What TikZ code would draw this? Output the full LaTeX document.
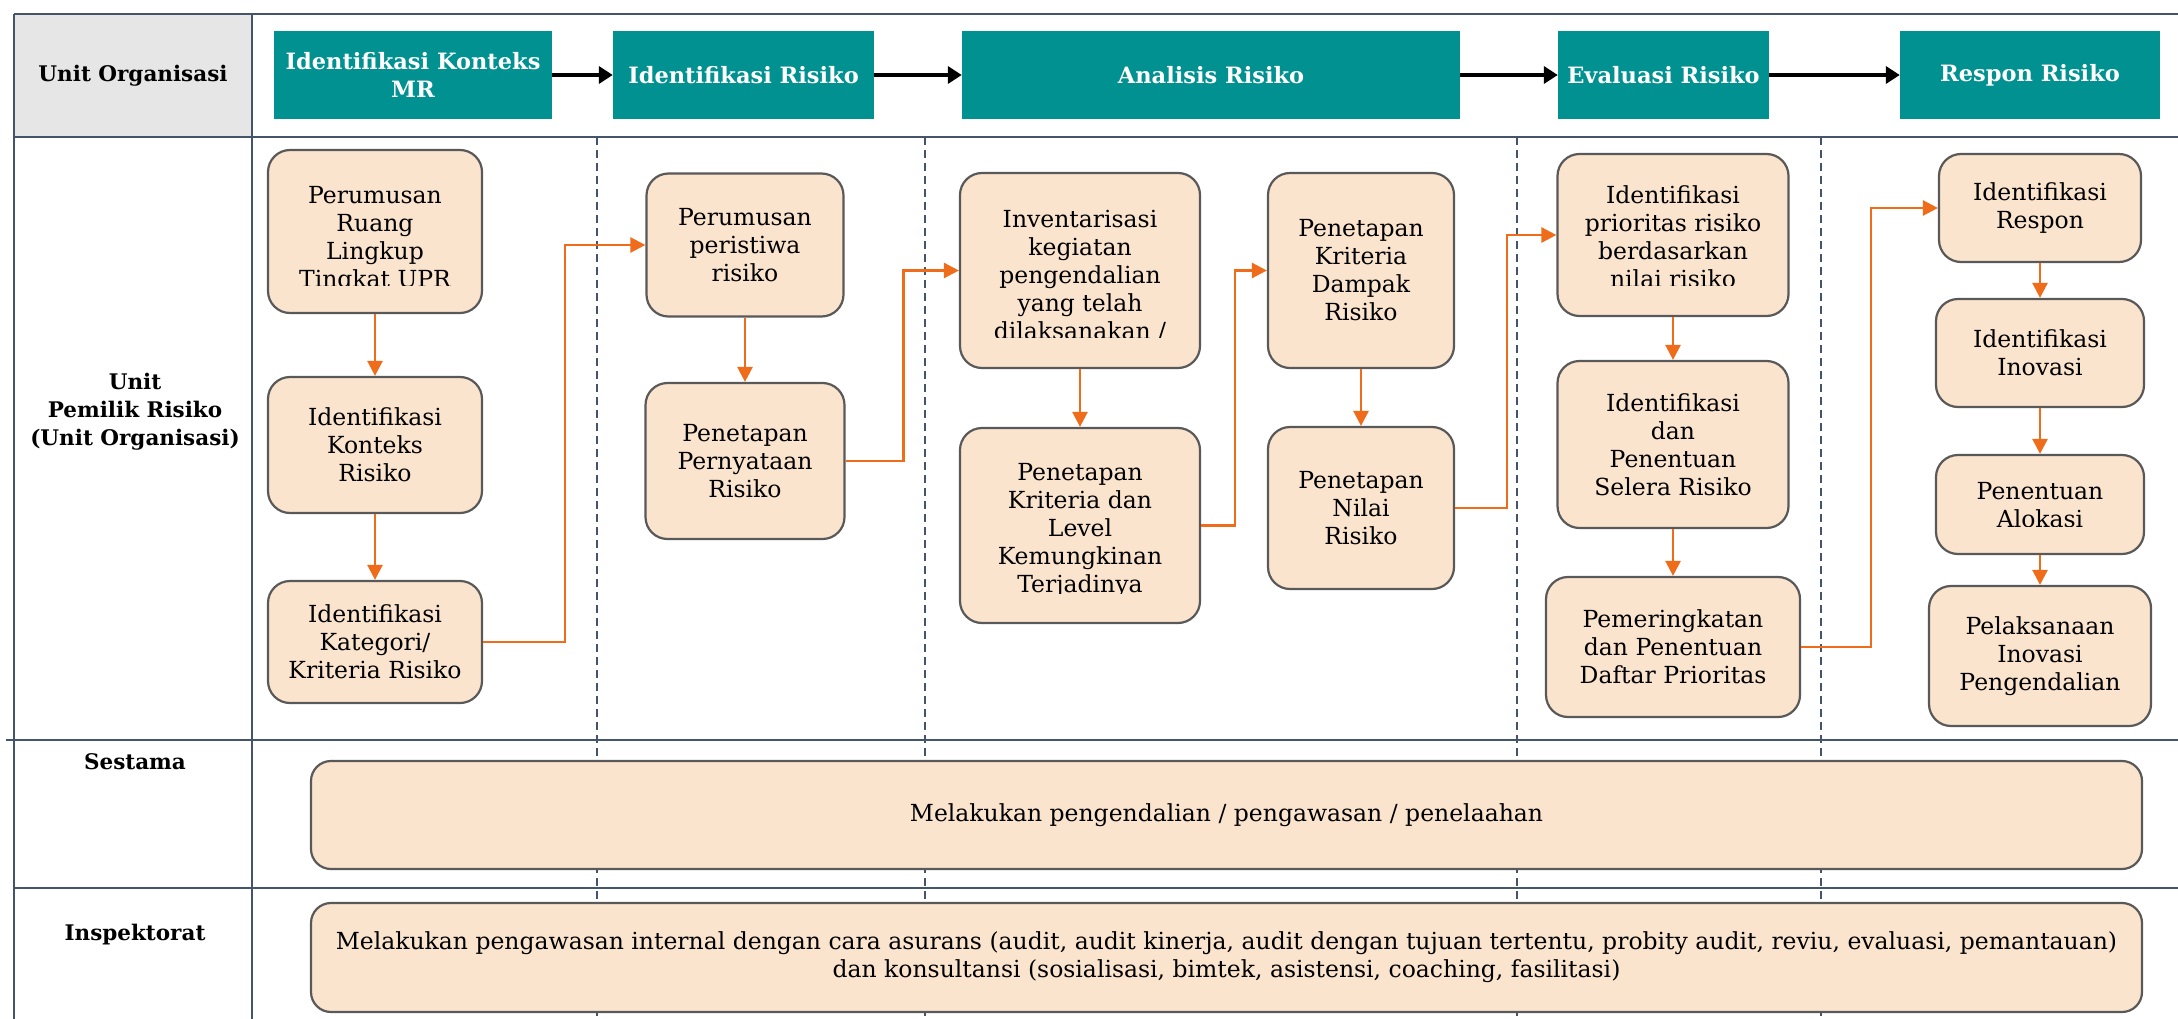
\documentclass[tikz,border=0pt]{standalone}
\usepackage{fontspec}
\setmainfont{DejaVu Serif}
\usetikzlibrary{arrows.meta}

\definecolor{lanecol}{HTML}{44546A}
\definecolor{phasecol}{HTML}{009190}
\definecolor{peach}{HTML}{FBE4CD}
\definecolor{boxline}{HTML}{595959}
\definecolor{flowor}{HTML}{EE6C1A}
\definecolor{headgray}{HTML}{E7E6E6}

\newcommand\txtbody{\fontsize{23.5}{28}\selectfont}
\newcommand\txthead{\bfseries\fontsize{21.5}{28}\selectfont}
\newcommand\txtphase{\bfseries\fontsize{22.5}{28}\selectfont}

\tikzset{
  laneline/.style={draw=lanecol, line width=2pt},
  colsep/.style={draw=lanecol, line width=1.6pt, dash pattern=on 8pt off 5pt},
  phase/.style={fill=phasecol, text=white, font=\txtphase, align=center,
    inner sep=0pt, minimum height=88pt},
  task/.style={draw=boxline, fill=peach, line width=2.2pt, rounded corners=22pt,
    align=center, font=\txtbody, inner sep=0pt},
  tasktext/.style={align=center, font=\txtbody, inner sep=0pt},
  lanelabel/.style={align=center, font=\txthead, inner sep=0pt},
  flow/.style={draw=flowor, line width=2.5pt, -{Triangle[length=15pt,width=15pt]}},
  stage/.style={draw=black, line width=4pt, -{Triangle[length=14pt,width=17pt]}},
}

\begin{document}
\begin{tikzpicture}[x=1pt,y=-1pt]
\useasboundingbox (0,0) rectangle (2178,1019);
\fill[white] (0,0) rectangle (2178,1019);

% header cell of the label column
\fill[headgray] (14,14) rectangle (252,137);

% dashed separators between the phases
\foreach \sx in {597,925,1517,1821}
  \draw[colsep] (\sx,137) -- (\sx,1019);

% swimlane grid
\draw[laneline] (14,14) -- (2178,14);
\draw[laneline] (14,137) -- (2178,137);
\draw[laneline] (6,740) -- (2178,740);
\draw[laneline] (14,888) -- (2178,888);
\draw[laneline] (14,14) -- (14,1019);
\draw[laneline] (252,14) -- (252,1019);

% lane labels
\node[lanelabel] (lbl-unit) at (133,76) {Unit Organisasi};
\node[lanelabel] (lbl-upr) at (135,412) {Unit\\Pemilik Risiko\\(Unit Organisasi)};
\node[lanelabel] (lbl-ses) at (135,762) {Sestama};
\node[lanelabel] (lbl-insp) at (135,935) {Inspektorat};

% process phases
\node[phase, minimum width=278pt] (p1) at (413,75) {Identifikasi Konteks\\MR};
\node[phase, minimum width=261pt] (p2) at (743.5,75) {Identifikasi Risiko};
\node[phase, minimum width=498pt] (p3) at (1211,75) {Analisis Risiko};
\node[phase, minimum width=211pt] (p4) at (1663.5,75) {Evaluasi Risiko};
\node[phase, minimum width=260pt] (p5) at (2030,75) {Respon Risiko};

\draw[stage] (p1) -- (p2);
\draw[stage] (p2) -- (p3);
\draw[stage] (p3) -- (p4);
\draw[stage] (p4) -- (p5);

% context identification
\node[task, minimum width=214pt, minimum height=163pt] (a1) at (375,231.5) {};
\begin{scope}
  \clip (268,150) rectangle (482,285.5);
  \node[tasktext] (a1-txt) at (375,239.2) {Perumusan\\Ruang\\Lingkup\\Tingkat UPR};
\end{scope}
\node[task, minimum width=214pt, minimum height=136pt] (a2) at (375,445) {Identifikasi\\Konteks\\Risiko};
\node[task, minimum width=214pt, minimum height=122pt] (a3) at (375,642) {Identifikasi\\Kategori/\\Kriteria Risiko};

% risk identification
\node[task, minimum width=197pt, minimum height=143pt] (b1) at (745,245) {Perumusan\\peristiwa\\risiko};
\node[task, minimum width=199pt, minimum height=156pt] (b2) at (745,461) {Penetapan\\Pernyataan\\Risiko};

% risk analysis
\node[task, minimum width=240pt, minimum height=195pt] (c1) at (1080,270.5) {};
\begin{scope}
  \clip (960,174) rectangle (1200,337.5);
  \node[tasktext] (c1-txt) at (1080,276) {Inventarisasi\\kegiatan\\pengendalian\\yang telah\\dilaksanakan /};
\end{scope}
\node[task, minimum width=240pt, minimum height=195pt] (c2) at (1080,525.5) {};
\begin{scope}
  \clip (960,429) rectangle (1200,593);
  \node[tasktext] (c2-txt) at (1080,530.2) {Penetapan\\Kriteria dan\\Level\\Kemungkinan\\Terjadinya};
\end{scope}
\node[task, minimum width=186pt, minimum height=195pt] (d1) at (1361,270.5) {Penetapan\\Kriteria\\Dampak\\Risiko};
\node[task, minimum width=186pt, minimum height=162pt] (d2) at (1361,508) {Penetapan\\Nilai\\Risiko};

% risk evaluation
\node[task, minimum width=231pt, minimum height=162pt] (e1) at (1673,235) {};
\begin{scope}
  \clip (1557,154) rectangle (1789,285.5);
  \node[tasktext] (e1-txt) at (1673,237) {Identifikasi\\prioritas risiko\\berdasarkan\\nilai risiko};
\end{scope}
\node[task, minimum width=231pt, minimum height=167pt] (e2) at (1673,444.5) {Identifikasi\\dan\\Penentuan\\Selera Risiko};
\node[task, minimum width=254pt, minimum height=140pt] (e3) at (1673,647) {Pemeringkatan\\dan Penentuan\\Daftar Prioritas};

% risk response
\node[task, minimum width=202pt, minimum height=108pt] (f1) at (2040,208) {Identifikasi\\Respon};
\node[task, minimum width=208pt, minimum height=108pt] (f2) at (2040,353) {Identifikasi\\Inovasi};
\node[task, minimum width=208pt, minimum height=99pt] (f3) at (2040,504.5) {};
\begin{scope}
  \clip (1936,455) rectangle (2144,526.5);
  \node[tasktext] (f3-txt) at (2040,505.5) {Penentuan\\Alokasi};
\end{scope}
\node[task, minimum width=222pt, minimum height=140pt] (f4) at (2040,656) {Pelaksanaan\\Inovasi\\Pengendalian};

% oversight lanes
\node[task, rounded corners=20pt, minimum width=1831pt, minimum height=108pt] (ses) at (1226.5,815)
  {Melakukan pengendalian / pengawasan / penelaahan};
\node[task, rounded corners=20pt, minimum width=1831pt, minimum height=109pt] (insp) at (1226.5,957.5)
  {Melakukan pengawasan internal dengan cara asurans (audit, audit kinerja, audit dengan tujuan tertentu, probity audit, reviu, evaluasi, pemantauan)\\dan konsultansi (sosialisasi, bimtek, asistensi, coaching, fasilitasi)};

% flow within the owner lane
\draw[flow] (a1) -- (a2);
\draw[flow] (a2) -- (a3);
\draw[flow] (a3.east) -- ++(82,0) |- (b1.west);
\draw[flow] (b1) -- (b2);
\draw[flow] (b2.east) -- ++(58,0) |- (c1.west);
\draw[flow] (c1) -- (c2);
\draw[flow] (c2.east) -- ++(34,0) |- (d1.west);
\draw[flow] (d1) -- (d2);
\draw[flow] (d2.east) -- ++(52,0) |- (e1.west);
\draw[flow] (e1) -- (e2);
\draw[flow] (e2) -- (e3);
\draw[flow] (e3.east) -- ++(70,0) |- (f1.west);
\draw[flow] (f1) -- (f2);
\draw[flow] (f2) -- (f3);
\draw[flow] (f3) -- (f4);
\end{tikzpicture}
\end{document}
